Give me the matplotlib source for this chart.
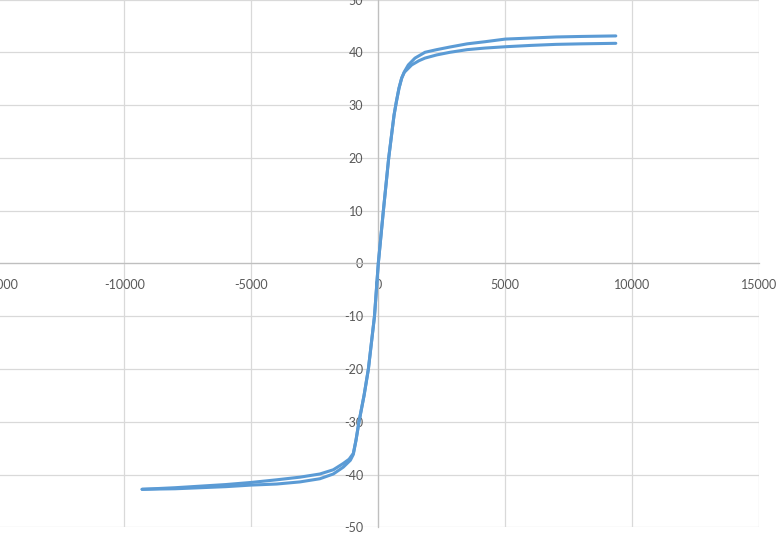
"""Hysteresis loop, Excel style scatter with axes crossing at origin"""

import matplotlib.pyplot as plt
import numpy as np

# branch going up (upper one on the positive side)
x_up = [-9300, -8000, -7000, -6000, -5000, -4000, -3083, -2300, -1772, -1378, -1150,
        -984, -878, -760, -560, -390, -150, 0, 200, 410, 620, 710, 815, 920, 1024, 1181,
        1445, 1839, 2300, 2823, 3500, 4200, 5000, 6000, 7000, 8000, 9350]
y_up = [-42.8, -42.5, -42.2, -41.9, -41.5, -41.0, -40.5, -39.9, -39.1, -37.9, -37.1,
        -36.0, -33.5, -30.0, -25.0, -20.0, -10.0, 0.0, 10.0, 20.0, 28.1, 30.6, 33.2, 35.1,
        36.3, 37.6, 38.9, 40.0, 40.5, 41.0, 41.6, 42.0, 42.5, 42.7, 42.9, 43.0, 43.1]

# branch coming back down (lower one on the positive side)
x_down = [9350, 8000, 7000, 6000, 5000, 4200, 3500, 2823, 2300, 1839, 1600, 1314, 1024,
          920, 815, 710, 620, 410, 200, 0, -150, -390, -560, -760, -878, -984, -1100,
          -1378, -1772, -2300, -3083, -4000, -5000, -6000, -7000, -8000, -9300]
y_down = [41.7, 41.6, 41.5, 41.3, 41.05, 40.8, 40.5, 40.0, 39.5, 38.9, 38.4, 37.6, 36.2,
          35.1, 33.2, 30.6, 28.1, 20.0, 10.0, 0.0, -10.0, -20.0, -25.0, -30.0, -33.5,
          -36.2, -37.3, -38.6, -39.9, -40.8, -41.4, -41.8, -42.0, -42.3, -42.5, -42.7, -42.8]

x_ticks = np.arange(-15000, 15001, 5000)
y_ticks = np.arange(-50, 51, 10)

plt.rcParams['font.family'] = ['Lato', 'DejaVu Sans']
plt.rcParams['axes.unicode_minus'] = False

fig = plt.figure(figsize=(7.77, 5.44), dpi=100)
ax = fig.add_axes([-2.7 / 777, 16.7 / 544, 762 / 777, 527.8 / 544])

line_color = '#5B9BD5'
ax.plot(x_up, y_up, color=line_color, lw=2.2, solid_capstyle='round',
        solid_joinstyle='round', zorder=3)
ax.plot(x_down, y_down, color=line_color, lw=2.2, solid_capstyle='round',
        solid_joinstyle='round', zorder=3)

ax.set_xlim(-15000, 15000)
ax.set_ylim(-50, 50)
ax.set_xticks(x_ticks)
ax.set_yticks(y_ticks)
ax.grid(True, color='#D9D9D9', lw=0.9, zorder=0)
ax.set_axisbelow(True)

# axes cross at the origin, like Excel
for side in ['top', 'right']:
    ax.spines[side].set_visible(False)
for side in ['left', 'bottom']:
    ax.spines[side].set_position(('data', 0))
    ax.spines[side].set_color('#BFBFBF')
    ax.spines[side].set_linewidth(0.9)
    ax.spines[side].set_zorder(1)

ax.tick_params(axis='both', length=0, labelsize=9, labelcolor='#595959')
ax.tick_params(axis='x', pad=11)
ax.tick_params(axis='y', pad=11)

fig.savefig('out.png', dpi=100)
